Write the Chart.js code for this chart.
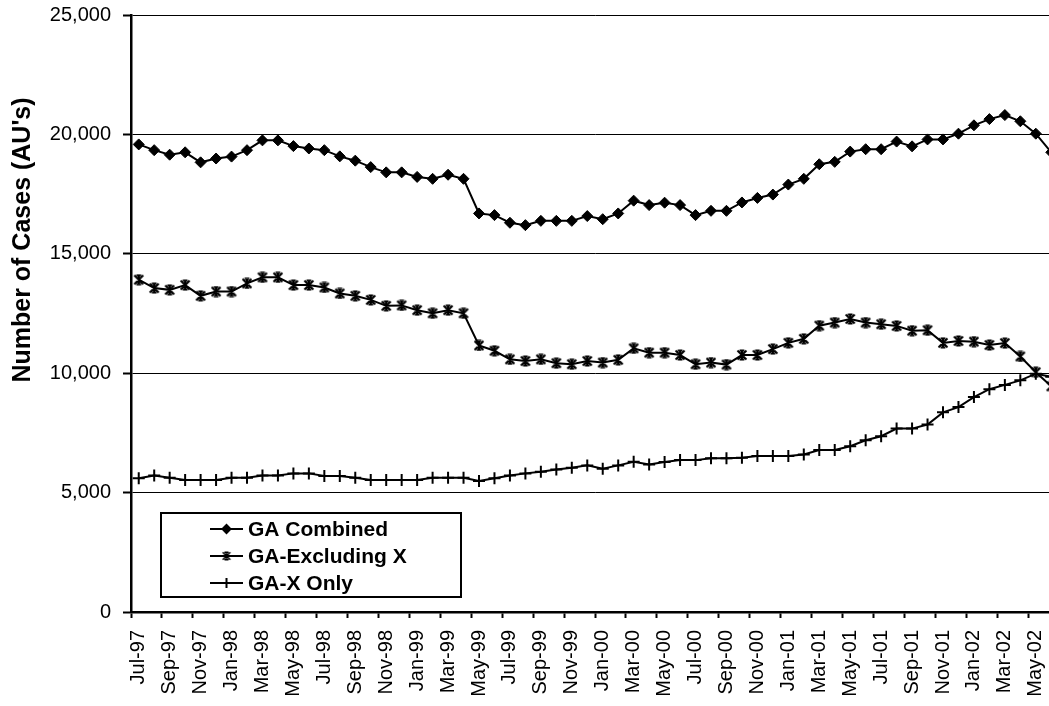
<!DOCTYPE html>
<html>
<head>
<meta charset="utf-8">
<script src="https://cdn.jsdelivr.net/npm/chart.js@4.4.0/dist/chart.umd.min.js"></script>
<style>
  html, body { margin: 0; padding: 0; background: #fff; overflow: hidden; }
  #wrap { width: 1067px; height: 706px; }
</style>
</head>
<body>
<div id="wrap"><canvas id="casesChart"></canvas></div>
<script>
// ==========================
// DATA
// ==========================
const months = [
  'Jul-97','Aug-97','Sep-97','Oct-97','Nov-97','Dec-97',
  'Jan-98','Feb-98','Mar-98','Apr-98','May-98','Jun-98',
  'Jul-98','Aug-98','Sep-98','Oct-98','Nov-98','Dec-98',
  'Jan-99','Feb-99','Mar-99','Apr-99','May-99','Jun-99',
  'Jul-99','Aug-99','Sep-99','Oct-99','Nov-99','Dec-99',
  'Jan-00','Feb-00','Mar-00','Apr-00','May-00','Jun-00',
  'Jul-00','Aug-00','Sep-00','Oct-00','Nov-00','Dec-00',
  'Jan-01','Feb-01','Mar-01','Apr-01','May-01','Jun-01',
  'Jul-01','Aug-01','Sep-01','Oct-01','Nov-01','Dec-01',
  'Jan-02','Feb-02','Mar-02','Apr-02','May-02','Jun-02'
];

const gaCombined = [
  19580, 19340, 19150, 19250, 18830, 18990,
  19070, 19340, 19750, 19750, 19510, 19410,
  19340, 19080, 18900, 18630, 18410, 18410,
  18220, 18140, 18310, 18140, 16690, 16620,
  16300, 16200, 16380, 16380, 16380, 16580,
  16450, 16690, 17225, 17040, 17140, 17040,
  16620, 16800, 16800, 17150, 17340, 17480,
  17900, 18140, 18750, 18850, 19280, 19380,
  19380, 19700, 19500, 19790, 19790, 20030,
  20380, 20640, 20810, 20550, 20030, 19250
];

const gaExcludingX = [
  13915, 13565, 13490, 13690, 13240, 13420,
  13420, 13760, 14015, 14015, 13690, 13690,
  13590, 13340, 13240, 13070, 12820, 12840,
  12640, 12510, 12640, 12510, 11160, 10940,
  10580, 10510, 10580, 10420, 10375, 10510,
  10445, 10560, 11040, 10860, 10860, 10760,
  10375, 10445, 10360, 10760, 10760, 11010,
  11270, 11440, 11990, 12120, 12270, 12120,
  12050, 11980, 11780, 11800, 11270, 11350,
  11320, 11180, 11260, 10700, 10040, 9450
];

const gaXOnly = [
  5600, 5720, 5625, 5530, 5530, 5530,
  5625, 5625, 5720, 5720, 5805, 5805,
  5695, 5695, 5625, 5530, 5530, 5530,
  5530, 5625, 5625, 5625, 5490, 5600,
  5720, 5805, 5875, 5970, 6040, 6140,
  6000, 6140, 6290, 6180, 6280, 6360,
  6360, 6440, 6440, 6460, 6530, 6530,
  6530, 6600, 6780, 6780, 6940, 7190,
  7360, 7680, 7680, 7850, 8360, 8580,
  9000, 9330, 9510, 9700, 9980, 9850
];

const seriesNames = ['GA Combined', 'GA-Excluding X', 'GA-X Only'];
const yTitle = "Number of Cases (AU's)";

const FONT = '"Liberation Sans", Arial, sans-serif';

// ==========================
// ASTERISK MARKER (excel style)
// ==========================
function makeStar(s, lw) {
  const c = document.createElement('canvas');
  c.width = s;
  c.height = s;
  const g = c.getContext('2d');
  g.strokeStyle = '#000';
  g.lineWidth = lw;
  const m = lw / 2 + 0.5, e = s - m, h = s / 2, cap = s * 0.2;
  g.beginPath();
  g.moveTo(m, m); g.lineTo(e, e);
  g.moveTo(e, m); g.lineTo(m, e);
  g.moveTo(h, m); g.lineTo(h, e);
  g.moveTo(h - cap, m); g.lineTo(h + cap, m);
  g.moveTo(h - cap, e); g.lineTo(h + cap, e);
  g.stroke();
  return c;
}

const starBig = makeStar(12, 2);
const starSmall = makeStar(10, 1.5);

// ==========================
// LEGEND BOX + AXIS TITLE
// ==========================
const boxLegend = {
  id: 'boxLegend',
  afterDraw(chart) {
    const ctx = chart.ctx;
    const area = chart.chartArea;
    const left = area.left + 30, top = area.bottom - 99;

    ctx.save();
    ctx.strokeStyle = '#000';
    ctx.lineWidth = 2;
    ctx.strokeRect(left, top, 300, 84);

    const styles = ['rectRot', starSmall, 'cross'];
    const radii = [4, 4, 5];
    chart.data.datasets.forEach((ds, i) => {
      const y = top + 16 + i * 27;
      ctx.beginPath();
      ctx.lineWidth = 2;
      ctx.moveTo(left + 49, y);
      ctx.lineTo(left + 82, y);
      ctx.stroke();
      ctx.fillStyle = '#000';
      Chart.helpers.drawPoint(ctx, {
        pointStyle: styles[i], radius: radii[i], borderWidth: 1.5, rotation: 0
      }, left + 65.5, y);
      ctx.fillStyle = '#000';
      ctx.font = 'bold 21px ' + FONT;
      ctx.textAlign = 'left';
      ctx.textBaseline = 'middle';
      ctx.fillText(ds.label, left + 87, y + 1);
    });

    // y axis title
    ctx.translate(23, 240);
    ctx.rotate(-Math.PI / 2);
    ctx.font = 'bold 25px ' + FONT;
    ctx.textAlign = 'center';
    ctx.textBaseline = 'middle';
    ctx.fillText(yTitle, 0, 0);
    ctx.restore();
  }
};

// ==========================
// CHART
// ==========================
const ctx = document.getElementById('casesChart').getContext('2d');

const casesChart = new Chart(ctx, {
  type: 'line',
  data: {
    labels: months,
    datasets: [
      {
        label: seriesNames[0],
        data: gaCombined,
        borderColor: '#000',
        borderWidth: 2,
        pointStyle: 'rectRot',
        pointRadius: 5.5,
        pointBackgroundColor: '#000',
        pointBorderColor: '#000',
        pointBorderWidth: 1
      },
      {
        label: seriesNames[1],
        data: gaExcludingX,
        borderColor: '#000',
        borderWidth: 2,
        pointStyle: starBig,
        pointRadius: 6,
        pointBackgroundColor: '#000',
        pointBorderColor: '#000'
      },
      {
        label: seriesNames[2],
        data: gaXOnly,
        borderColor: '#000',
        borderWidth: 2,
        pointStyle: 'cross',
        pointRadius: 6,
        pointBorderColor: '#000',
        pointBorderWidth: 2
      }
    ]
  },
  options: {
    responsive: true,
    maintainAspectRatio: false,
    animation: false,
    events: [],
    layout: { padding: { top: 15, right: 0, bottom: 0, left: 0 } },
    plugins: {
      legend: { display: false },
      tooltip: { enabled: false }
    },
    scales: {
      x: {
        type: 'category',
        offset: true,
        afterFit: (scale) => {
          scale.height = 94;
          scale.paddingLeft = 0;
          scale.paddingRight = 0;
        },
        border: { display: true, color: '#000', width: 2.5 },
        grid: {
          offset: true,
          drawOnChartArea: false,
          drawTicks: true,
          tickLength: 6,
          tickWidth: 2,
          tickColor: (c) => (c.index % 2 === 0 ? '#000' : 'rgba(0,0,0,0)')
        },
        ticks: {
          autoSkip: false,
          minRotation: 90,
          maxRotation: 90,
          padding: 12,
          color: '#000',
          font: { family: FONT, size: 20 },
          callback: (v, i) => (i % 2 === 0 ? months[i] : '')
        }
      },
      y: {
        min: 0,
        max: 25000,
        afterFit: (scale) => {
          scale.width = 131;
          scale.paddingTop = 0;
          scale.paddingBottom = 0;
        },
        border: { display: true, color: '#000', width: 2.5 },
        grid: {
          color: '#000',
          lineWidth: 1,
          drawTicks: true,
          tickLength: 8,
          tickWidth: 2,
          tickColor: '#000'
        },
        ticks: {
          stepSize: 5000,
          padding: 12,
          color: '#000',
          font: { family: FONT, size: 20 },
          callback: (v) => v.toLocaleString('en-US')
        }
      }
    }
  },
  plugins: [boxLegend]
});
</script>
</body>
</html>
